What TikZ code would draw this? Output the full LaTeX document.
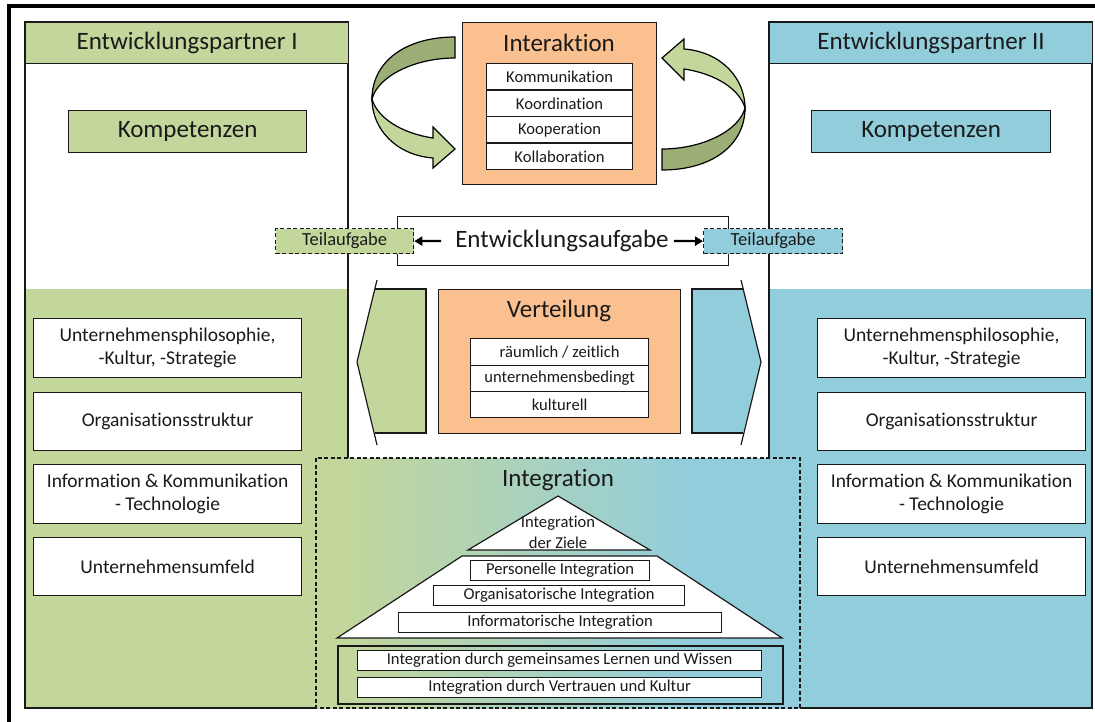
\documentclass[tikz,border=0pt]{standalone}
\usepackage{fontspec}
\setmainfont{Carlito}[Ligatures=NoCommon]
\usetikzlibrary{arrows.meta}
\definecolor{pgreen}{HTML}{C3D69B}
\definecolor{pblue}{HTML}{92CDDC}
\definecolor{porange}{HTML}{FAC090}
\definecolor{polive}{HTML}{9BAE76}
\definecolor{pmix}{HTML}{ABD2BC}
\definecolor{ink}{HTML}{1A1A1A}
\pgfdeclarehorizontalshading{integfade}{100bp}{color(0bp)=(pgreen); color(28bp)=(pgreen); color(46bp)=(pmix); color(64bp)=(pblue); color(100bp)=(pblue)}
\begin{document}
\begin{tikzpicture}[x=1pt,y=-1pt,
  every node/.style={text=ink},
  edge/.style={draw=black!90, line width=1.2pt},
  cell/.style={edge, anchor=north west, inner sep=0pt, align=center},
  dash box/.style={draw=black!90, line width=1.3pt, dash pattern=on 4pt off 2.5pt, anchor=north west, inner sep=0pt},
  fbig/.style={font=\fontsize{25}{30}\selectfont},
  fmid/.style={font=\fontsize{19.5}{23.5}\selectfont},
  fteil/.style={font=\fontsize{18.5}{22}\selectfont},
  fsmall/.style={font=\fontsize{16.6}{21}\selectfont},
  shortarr/.style={line width=2.2pt, -{Triangle[length=8pt,width=9pt]}},
  ribbon/.style={draw=black, line width=1.2pt}
]
\useasboundingbox (0,0) rectangle (1095,722);
\fill[white] (0,0) rectangle (1095,722);

% outer frame
\draw[line width=3.5pt] (9,740) -- (9,6) -- (1110,6);

% ---------- partner I ----------
\fill[white] (25,22) rectangle (348,708);
\fill[pgreen] (25,289) rectangle (348,708);
\draw[edge] (25,22) rectangle (348,708);
\node[cell, fill=pgreen, minimum width=323, minimum height=41, fbig] (hl) at (25,22) {Entwicklungspartner I};
\node[cell, fill=pgreen, minimum width=238, minimum height=42, fbig] (kl) at (68,110) {Kompetenzen};
\node[cell, fill=white, minimum width=268, minimum height=59, fmid] (l1) at (33,318) {Unternehmensphilosophie,\\-Kultur, -Strategie};
\node[cell, fill=white, minimum width=268, minimum height=58, fmid] (l2) at (33,392) {Organisationsstruktur};
\node[cell, fill=white, minimum width=268, minimum height=59, fmid] (l3) at (33,464) {Information \& Kommunikation\\- Technologie};
\node[cell, fill=white, minimum width=268, minimum height=58, fmid] (l4) at (33,537) {Unternehmensumfeld};

% ---------- partner II ----------
\fill[white] (769,22) rectangle (1092,708);
\fill[pblue] (769,289) rectangle (1092,708);
\draw[edge] (769,22) rectangle (1092,708);
\node[cell, fill=pblue, minimum width=323, minimum height=41, fbig] (hr) at (769,22) {Entwicklungspartner II};
\node[cell, fill=pblue, minimum width=239, minimum height=42, fbig] (kr) at (811,110) {Kompetenzen};
\node[cell, fill=white, minimum width=268, minimum height=59, fmid] (r1) at (817,318) {Unternehmensphilosophie,\\-Kultur, -Strategie};
\node[cell, fill=white, minimum width=268, minimum height=58, fmid] (r2) at (817,392) {Organisationsstruktur};
\node[cell, fill=white, minimum width=268, minimum height=59, fmid] (r3) at (817,464) {Information \& Kommunikation\\- Technologie};
\node[cell, fill=white, minimum width=268, minimum height=58, fmid] (r4) at (817,537) {Unternehmensumfeld};

% ---------- interaction ----------
\node[cell, fill=porange, minimum width=194, minimum height=162] (ia) at (462,22) {};
\node[fbig, inner sep=0pt] (iat) at (559,43) {Interaktion};
\node[cell, fill=white, minimum width=146, minimum height=26.5, fsmall] (i1) at (486,63) {Kommunikation};
\node[cell, fill=white, minimum width=146, minimum height=26.5, fsmall] (i2) at (486,89.5) {Koordination};
\node[cell, fill=white, minimum width=146, minimum height=26.5, fsmall] (i3) at (486,116) {Kooperation};
\node[cell, fill=white, minimum width=146, minimum height=26.5, fsmall] (i4) at (486,142.5) {Kollaboration};

% curved ribbon arrows around the interaction box
\foreach \ang in {0,180}{
\begin{scope}[rotate around={\ang:(558.5,103.5)}]
  \path[ribbon, fill=polive] (455,37) .. controls (405,37) and (372,62) .. (372,99)
        .. controls (378,76) and (415,58) .. (455,58) -- cycle;
  \path[ribbon, fill=pgreen] (372,99) .. controls (377,117) and (400,133) .. (433,138)
        -- (433,127) -- (455,149) -- (433,168) -- (433,158)
        .. controls (395,155) and (372,128) .. (372,99) -- cycle;
\end{scope}}

% ---------- development task ----------
\node[cell, fill=white, minimum width=331, minimum height=49] (ea) at (397,216) {};
\node[fbig, inner sep=0pt] (et) at (562,241) {Entwicklungsaufgabe};
\node[dash box, fill=pgreen, minimum width=138, minimum height=25, fteil] (tl) at (275,228) {Teilaufgabe};
\node[dash box, fill=pblue, minimum width=139, minimum height=25, fteil] (tr) at (703,228) {Teilaufgabe};
\draw[shortarr] ([xshift=-14pt]et.west) -- (tl.east);
\draw[shortarr] ([xshift=5pt]et.east) -- (tr.west);

% ---------- distribution ----------
\fill[pgreen] (426,289) -- (375,289) -- (357,362) -- (375,433) -- (426,433) -- cycle;
\draw[edge] (375,289) -- (426,289) -- (426,433) -- (375,433);
\draw[edge] (377,280) -- (357,362) -- (377,445);
\fill[pblue] (692,289) -- (743,289) -- (761,362) -- (743,433) -- (692,433) -- cycle;
\draw[edge] (743,289) -- (692,289) -- (692,433) -- (743,433);
\draw[edge] (741,280) -- (761,362) -- (741,445);

\node[cell, fill=porange, minimum width=242, minimum height=144] (vt) at (438,289) {};
\node[fbig, inner sep=0pt] (vtt) at (559,311) {Verteilung};
\node[cell, fill=white, minimum width=178, minimum height=27, fsmall] (v1) at (470,338) {räumlich / zeitlich};
\node[cell, fill=white, minimum width=178, minimum height=26, fsmall] (v2) at (470,365) {unternehmensbedingt};
\node[cell, fill=white, minimum width=178, minimum height=26, fsmall] (v3) at (470,391) {kulturell};

% ---------- integration ----------
\path[shading=integfade] (316,458) rectangle (800,708);
\draw[draw=black!90, line width=1.3pt, dash pattern=on 4pt off 2.5pt] (316,458) rectangle (800,708);
\node[fbig, inner sep=0pt] (ig) at (558,480) {Integration};

\draw[edge, fill=white] (558,496) -- (650,550) -- (468,550) -- cycle;
\node[align=center, inner sep=0pt, font=\fontsize{16.6}{21}\selectfont] (iz) at (558,532) {Integration\\der Ziele};
\draw[edge, fill=white] (462,556) -- (657,556) -- (782,638) -- (337,638) -- cycle;
\node[cell, fill=white, minimum width=179, minimum height=20, fsmall] (p1) at (470,560) {Personelle Integration};
\node[cell, fill=white, minimum width=251, minimum height=20, fsmall] (p2) at (433,585) {Organisatorische Integration};
\node[cell, fill=white, minimum width=323, minimum height=20, fsmall] (p3) at (398,612) {Informatorische Integration};

\node[cell, line width=1.8pt, minimum width=445, minimum height=58] (base) at (337,645) {};
\node[cell, fill=white, minimum width=404, minimum height=20, fsmall] (b1) at (357,650) {Integration durch gemeinsames Lernen und Wissen};
\node[cell, fill=white, minimum width=404, minimum height=20, fsmall] (b2) at (357,677) {Integration durch Vertrauen und Kultur};
\end{tikzpicture}
\end{document}
